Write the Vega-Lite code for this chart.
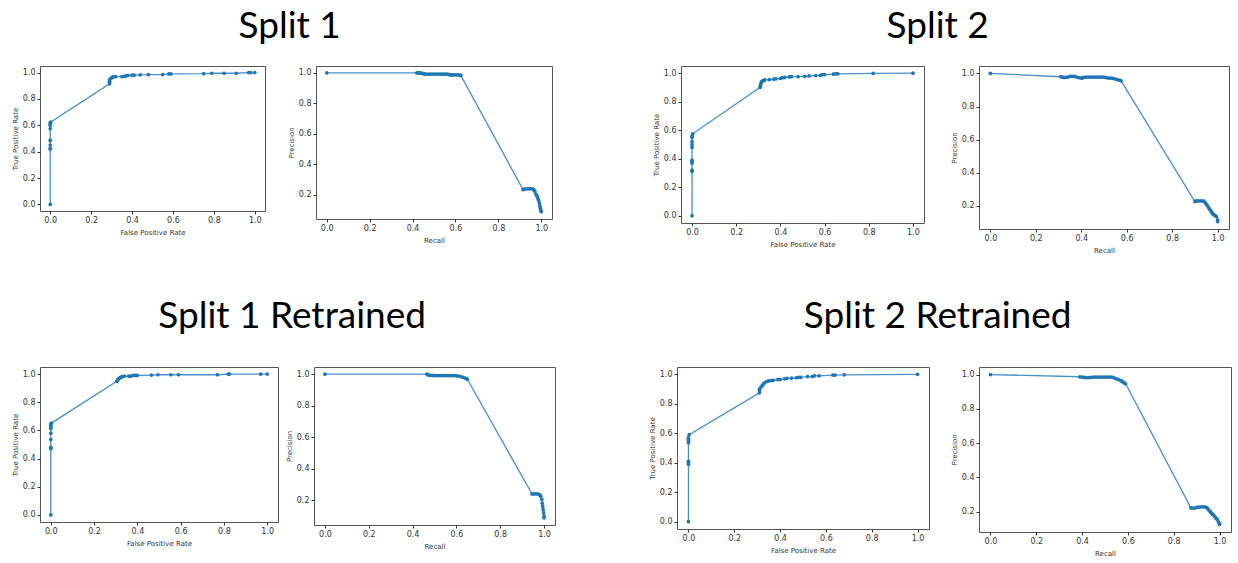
{
"$schema": "https://vega.github.io/schema/vega-lite/v6.json",
"padding": {"left": 10, "top": 7, "right": 0, "bottom": 0},
"background": "white",
"datasets": {
"p1": [{"fpr":0,"tpr":0},{"fpr":0,"tpr":0.42},{"fpr":0,"tpr":0.425},{"fpr":0,"tpr":0.45},{"fpr":0,"tpr":0.485},{"fpr":0,"tpr":0.575},{"fpr":0,"tpr":0.6},{"fpr":0,"tpr":0.61},{"fpr":0,"tpr":0.62},{"fpr":0.003,"tpr":0.625},{"fpr":0.29,"tpr":0.915},{"fpr":0.29,"tpr":0.925},{"fpr":0.29,"tpr":0.935},{"fpr":0.29,"tpr":0.945},{"fpr":0.295,"tpr":0.955},{"fpr":0.3,"tpr":0.96},{"fpr":0.305,"tpr":0.965},{"fpr":0.31,"tpr":0.968},{"fpr":0.32,"tpr":0.97},{"fpr":0.35,"tpr":0.97},{"fpr":0.36,"tpr":0.972},{"fpr":0.37,"tpr":0.975},{"fpr":0.38,"tpr":0.978},{"fpr":0.4,"tpr":0.98},{"fpr":0.41,"tpr":0.98},{"fpr":0.44,"tpr":0.983},{"fpr":0.48,"tpr":0.985},{"fpr":0.55,"tpr":0.985},{"fpr":0.58,"tpr":0.99},{"fpr":0.59,"tpr":0.99},{"fpr":0.75,"tpr":0.992},{"fpr":0.79,"tpr":0.995},{"fpr":0.85,"tpr":0.995},{"fpr":0.91,"tpr":0.995},{"fpr":0.97,"tpr":1.0},{"fpr":0.98,"tpr":1.0},{"fpr":1.0,"tpr":1.0}],
"p2": [{"recall":0,"precision":1.0},{"recall":0.42,"precision":1.0},{"recall":0.425,"precision":1.0},{"recall":0.43,"precision":1.0},{"recall":0.435,"precision":1.0},{"recall":0.44,"precision":0.998},{"recall":0.445,"precision":0.997},{"recall":0.45,"precision":0.995},{"recall":0.455,"precision":0.994},{"recall":0.46,"precision":0.993},{"recall":0.47,"precision":0.993},{"recall":0.48,"precision":0.993},{"recall":0.49,"precision":0.993},{"recall":0.5,"precision":0.993},{"recall":0.51,"precision":0.993},{"recall":0.52,"precision":0.993},{"recall":0.53,"precision":0.993},{"recall":0.54,"precision":0.993},{"recall":0.55,"precision":0.993},{"recall":0.56,"precision":0.992},{"recall":0.57,"precision":0.99},{"recall":0.575,"precision":0.988},{"recall":0.58,"precision":0.987},{"recall":0.59,"precision":0.987},{"recall":0.6,"precision":0.987},{"recall":0.61,"precision":0.987},{"recall":0.62,"precision":0.986},{"recall":0.625,"precision":0.984},{"recall":0.915,"precision":0.235},{"recall":0.92,"precision":0.238},{"recall":0.93,"precision":0.24},{"recall":0.94,"precision":0.24},{"recall":0.95,"precision":0.24},{"recall":0.96,"precision":0.24},{"recall":0.965,"precision":0.235},{"recall":0.97,"precision":0.225},{"recall":0.975,"precision":0.205},{"recall":0.98,"precision":0.195},{"recall":0.983,"precision":0.185},{"recall":0.986,"precision":0.17},{"recall":0.99,"precision":0.155},{"recall":0.992,"precision":0.14},{"recall":0.994,"precision":0.125},{"recall":0.996,"precision":0.11},{"recall":0.998,"precision":0.098},{"recall":1.0,"precision":0.09}],
"p3": [{"fpr":0,"tpr":0},{"fpr":0,"tpr":0.31},{"fpr":0,"tpr":0.32},{"fpr":0,"tpr":0.37},{"fpr":0,"tpr":0.38},{"fpr":0,"tpr":0.39},{"fpr":0,"tpr":0.48},{"fpr":0,"tpr":0.5},{"fpr":0,"tpr":0.52},{"fpr":0,"tpr":0.55},{"fpr":0,"tpr":0.56},{"fpr":0.003,"tpr":0.575},{"fpr":0.308,"tpr":0.9},{"fpr":0.31,"tpr":0.91},{"fpr":0.31,"tpr":0.92},{"fpr":0.312,"tpr":0.93},{"fpr":0.315,"tpr":0.94},{"fpr":0.32,"tpr":0.945},{"fpr":0.325,"tpr":0.95},{"fpr":0.33,"tpr":0.953},{"fpr":0.35,"tpr":0.955},{"fpr":0.37,"tpr":0.958},{"fpr":0.38,"tpr":0.96},{"fpr":0.4,"tpr":0.963},{"fpr":0.41,"tpr":0.968},{"fpr":0.42,"tpr":0.97},{"fpr":0.44,"tpr":0.973},{"fpr":0.45,"tpr":0.975},{"fpr":0.48,"tpr":0.975},{"fpr":0.51,"tpr":0.978},{"fpr":0.53,"tpr":0.98},{"fpr":0.56,"tpr":0.983},{"fpr":0.58,"tpr":0.985},{"fpr":0.59,"tpr":0.99},{"fpr":0.6,"tpr":0.99},{"fpr":0.64,"tpr":0.993},{"fpr":0.65,"tpr":0.995},{"fpr":0.66,"tpr":0.995},{"fpr":0.82,"tpr":0.998},{"fpr":1.0,"tpr":1.0}],
"p4": [{"recall":0,"precision":1.0},{"recall":0.31,"precision":0.98},{"recall":0.315,"precision":0.978},{"recall":0.32,"precision":0.976},{"recall":0.33,"precision":0.976},{"recall":0.34,"precision":0.978},{"recall":0.35,"precision":0.982},{"recall":0.36,"precision":0.982},{"recall":0.37,"precision":0.982},{"recall":0.38,"precision":0.978},{"recall":0.39,"precision":0.975},{"recall":0.4,"precision":0.972},{"recall":0.405,"precision":0.973},{"recall":0.41,"precision":0.976},{"recall":0.42,"precision":0.978},{"recall":0.43,"precision":0.978},{"recall":0.44,"precision":0.978},{"recall":0.45,"precision":0.978},{"recall":0.46,"precision":0.978},{"recall":0.47,"precision":0.978},{"recall":0.48,"precision":0.978},{"recall":0.49,"precision":0.978},{"recall":0.5,"precision":0.977},{"recall":0.51,"precision":0.975},{"recall":0.52,"precision":0.972},{"recall":0.53,"precision":0.972},{"recall":0.54,"precision":0.97},{"recall":0.55,"precision":0.966},{"recall":0.56,"precision":0.962},{"recall":0.57,"precision":0.958},{"recall":0.575,"precision":0.955},{"recall":0.9,"precision":0.226},{"recall":0.905,"precision":0.23},{"recall":0.91,"precision":0.23},{"recall":0.92,"precision":0.23},{"recall":0.93,"precision":0.23},{"recall":0.94,"precision":0.228},{"recall":0.945,"precision":0.22},{"recall":0.95,"precision":0.21},{"recall":0.955,"precision":0.2},{"recall":0.96,"precision":0.19},{"recall":0.965,"precision":0.18},{"recall":0.97,"precision":0.17},{"recall":0.975,"precision":0.16},{"recall":0.98,"precision":0.15},{"recall":0.985,"precision":0.145},{"recall":0.99,"precision":0.14},{"recall":0.995,"precision":0.135},{"recall":1.0,"precision":0.115},{"recall":1.0,"precision":0.105}],
"p5": [{"fpr":0,"tpr":0},{"fpr":0,"tpr":0.47},{"fpr":0,"tpr":0.475},{"fpr":0,"tpr":0.48},{"fpr":0,"tpr":0.535},{"fpr":0,"tpr":0.58},{"fpr":0,"tpr":0.615},{"fpr":0,"tpr":0.625},{"fpr":0,"tpr":0.635},{"fpr":0,"tpr":0.645},{"fpr":0.003,"tpr":0.652},{"fpr":0.305,"tpr":0.948},{"fpr":0.308,"tpr":0.955},{"fpr":0.31,"tpr":0.962},{"fpr":0.315,"tpr":0.968},{"fpr":0.32,"tpr":0.975},{"fpr":0.325,"tpr":0.978},{"fpr":0.33,"tpr":0.982},{"fpr":0.34,"tpr":0.985},{"fpr":0.36,"tpr":0.985},{"fpr":0.37,"tpr":0.985},{"fpr":0.38,"tpr":0.99},{"fpr":0.39,"tpr":0.99},{"fpr":0.4,"tpr":0.99},{"fpr":0.465,"tpr":0.993},{"fpr":0.495,"tpr":0.995},{"fpr":0.555,"tpr":0.995},{"fpr":0.59,"tpr":0.995},{"fpr":0.77,"tpr":0.995},{"fpr":0.82,"tpr":1.0},{"fpr":0.825,"tpr":1.0},{"fpr":0.97,"tpr":1.0},{"fpr":1.0,"tpr":1.0}],
"p6": [{"recall":0,"precision":1.0},{"recall":0.465,"precision":1.0},{"recall":0.47,"precision":0.996},{"recall":0.475,"precision":0.994},{"recall":0.48,"precision":0.993},{"recall":0.49,"precision":0.992},{"recall":0.5,"precision":0.991},{"recall":0.51,"precision":0.991},{"recall":0.52,"precision":0.991},{"recall":0.53,"precision":0.991},{"recall":0.54,"precision":0.991},{"recall":0.55,"precision":0.991},{"recall":0.56,"precision":0.991},{"recall":0.57,"precision":0.991},{"recall":0.58,"precision":0.991},{"recall":0.59,"precision":0.991},{"recall":0.6,"precision":0.99},{"recall":0.61,"precision":0.988},{"recall":0.62,"precision":0.985},{"recall":0.63,"precision":0.98},{"recall":0.64,"precision":0.975},{"recall":0.645,"precision":0.972},{"recall":0.65,"precision":0.968},{"recall":0.945,"precision":0.24},{"recall":0.95,"precision":0.24},{"recall":0.96,"precision":0.24},{"recall":0.97,"precision":0.24},{"recall":0.98,"precision":0.235},{"recall":0.985,"precision":0.225},{"recall":0.99,"precision":0.205},{"recall":0.992,"precision":0.18},{"recall":0.994,"precision":0.16},{"recall":0.996,"precision":0.14},{"recall":0.998,"precision":0.12},{"recall":1.0,"precision":0.1},{"recall":1.0,"precision":0.088}],
"p7": [{"fpr":0,"tpr":0},{"fpr":0,"tpr":0.39},{"fpr":0,"tpr":0.4},{"fpr":0,"tpr":0.41},{"fpr":0,"tpr":0.535},{"fpr":0,"tpr":0.55},{"fpr":0,"tpr":0.56},{"fpr":0,"tpr":0.57},{"fpr":0.003,"tpr":0.59},{"fpr":0.31,"tpr":0.875},{"fpr":0.31,"tpr":0.89},{"fpr":0.31,"tpr":0.9},{"fpr":0.315,"tpr":0.91},{"fpr":0.32,"tpr":0.92},{"fpr":0.325,"tpr":0.93},{"fpr":0.33,"tpr":0.94},{"fpr":0.34,"tpr":0.95},{"fpr":0.35,"tpr":0.955},{"fpr":0.36,"tpr":0.958},{"fpr":0.37,"tpr":0.96},{"fpr":0.39,"tpr":0.965},{"fpr":0.4,"tpr":0.965},{"fpr":0.42,"tpr":0.97},{"fpr":0.43,"tpr":0.972},{"fpr":0.45,"tpr":0.975},{"fpr":0.47,"tpr":0.977},{"fpr":0.48,"tpr":0.98},{"fpr":0.49,"tpr":0.98},{"fpr":0.52,"tpr":0.985},{"fpr":0.54,"tpr":0.985},{"fpr":0.55,"tpr":0.99},{"fpr":0.57,"tpr":0.99},{"fpr":0.63,"tpr":0.995},{"fpr":0.64,"tpr":0.995},{"fpr":0.68,"tpr":0.997},{"fpr":1.0,"tpr":1.0}],
"p8": [{"recall":0,"precision":1.0},{"recall":0.39,"precision":0.987},{"recall":0.4,"precision":0.985},{"recall":0.41,"precision":0.983},{"recall":0.42,"precision":0.982},{"recall":0.43,"precision":0.982},{"recall":0.44,"precision":0.983},{"recall":0.45,"precision":0.985},{"recall":0.46,"precision":0.985},{"recall":0.47,"precision":0.985},{"recall":0.48,"precision":0.985},{"recall":0.49,"precision":0.985},{"recall":0.5,"precision":0.985},{"recall":0.51,"precision":0.985},{"recall":0.52,"precision":0.985},{"recall":0.53,"precision":0.985},{"recall":0.54,"precision":0.98},{"recall":0.55,"precision":0.975},{"recall":0.56,"precision":0.97},{"recall":0.57,"precision":0.965},{"recall":0.575,"precision":0.96},{"recall":0.58,"precision":0.955},{"recall":0.585,"precision":0.95},{"recall":0.59,"precision":0.946},{"recall":0.875,"precision":0.222},{"recall":0.88,"precision":0.22},{"recall":0.89,"precision":0.22},{"recall":0.9,"precision":0.225},{"recall":0.91,"precision":0.226},{"recall":0.92,"precision":0.228},{"recall":0.93,"precision":0.228},{"recall":0.94,"precision":0.226},{"recall":0.945,"precision":0.222},{"recall":0.95,"precision":0.215},{"recall":0.955,"precision":0.205},{"recall":0.96,"precision":0.2},{"recall":0.965,"precision":0.19},{"recall":0.97,"precision":0.185},{"recall":0.975,"precision":0.178},{"recall":0.98,"precision":0.17},{"recall":0.985,"precision":0.16},{"recall":0.99,"precision":0.155},{"recall":0.995,"precision":0.14},{"recall":1.0,"precision":0.13},{"recall":1.0,"precision":0.125}]
},
"spacing": 43,
"vconcat": [
 {"spacing": 98, "hconcat": [
  {"title": {"text": "Split 1", "offset": 20, "dx": 8}, "spacing": 51, "bounds": "flush", "hconcat": [
   {"width": 225, "height": 145, "data": {"name": "p1"}, "mark": {"type": "line", "color": "#4a90c8", "strokeWidth": 1.3, "point": {"filled": true, "size": 14, "color": "#1f77b4"}},
    "encoding": {"x": {"field": "fpr", "type": "quantitative", "scale": {"domain": [-0.05, 1.05], "nice": false, "zero": false}, "axis": {"title": "False Positive Rate", "values": [0, 0.2, 0.4, 0.6, 0.8, 1]}},
                 "y": {"field": "tpr", "type": "quantitative", "scale": {"domain": [-0.05, 1.05], "nice": false, "zero": false}, "axis": {"title": "True Positive Rate", "values": [0, 0.2, 0.4, 0.6, 0.8, 1]}}}},
   {"width": 236, "height": 153, "data": {"name": "p2"}, "mark": {"type": "line", "color": "#4a90c8", "strokeWidth": 1.3, "point": {"filled": true, "size": 14, "color": "#1f77b4"}},
    "encoding": {"x": {"field": "recall", "type": "quantitative", "scale": {"domain": [-0.05, 1.05], "nice": false, "zero": false}, "axis": {"title": "Recall", "values": [0, 0.2, 0.4, 0.6, 0.8, 1]}},
                 "y": {"field": "precision", "type": "quantitative", "scale": {"domain": [0.0424, 1.0456], "nice": false, "zero": false}, "axis": {"title": "Precision", "values": [0.2, 0.4, 0.6, 0.8, 1]}}}}
  ]},
  {"title": {"text": "Split 2", "offset": 20, "dx": -3}, "spacing": 55, "bounds": "flush", "hconcat": [
   {"width": 243, "height": 157, "data": {"name": "p3"}, "mark": {"type": "line", "color": "#4a90c8", "strokeWidth": 1.3, "point": {"filled": true, "size": 14, "color": "#1f77b4"}},
    "encoding": {"x": {"field": "fpr", "type": "quantitative", "scale": {"domain": [-0.05, 1.05], "nice": false, "zero": false}, "axis": {"title": "False Positive Rate", "values": [0, 0.2, 0.4, 0.6, 0.8, 1]}},
                 "y": {"field": "tpr", "type": "quantitative", "scale": {"domain": [-0.05, 1.05], "nice": false, "zero": false}, "axis": {"title": "True Positive Rate", "values": [0, 0.2, 0.4, 0.6, 0.8, 1]}}}},
   {"width": 250, "height": 163, "data": {"name": "p4"}, "mark": {"type": "line", "color": "#4a90c8", "strokeWidth": 1.3, "point": {"filled": true, "size": 14, "color": "#1f77b4"}},
    "encoding": {"x": {"field": "recall", "type": "quantitative", "scale": {"domain": [-0.05, 1.05], "nice": false, "zero": false}, "axis": {"title": "Recall", "values": [0, 0.2, 0.4, 0.6, 0.8, 1]}},
                 "y": {"field": "precision", "type": "quantitative", "scale": {"domain": [0.0602, 1.0448], "nice": false, "zero": false}, "axis": {"title": "Precision", "values": [0.2, 0.4, 0.6, 0.8, 1]}}}}
  ]}
 ]},
 {"spacing": 91, "hconcat": [
  {"title": {"text": "Split 1 Retrained", "offset": 31, "dx": 9}, "spacing": 36, "bounds": "flush", "hconcat": [
   {"width": 238, "height": 155, "data": {"name": "p5"}, "mark": {"type": "line", "color": "#4a90c8", "strokeWidth": 1.3, "point": {"filled": true, "size": 14, "color": "#1f77b4"}},
    "encoding": {"x": {"field": "fpr", "type": "quantitative", "scale": {"domain": [-0.05, 1.05], "nice": false, "zero": false}, "axis": {"title": "False Positive Rate", "values": [0, 0.2, 0.4, 0.6, 0.8, 1]}},
                 "y": {"field": "tpr", "type": "quantitative", "scale": {"domain": [-0.05, 1.05], "nice": false, "zero": false}, "axis": {"title": "True Positive Rate", "values": [0, 0.2, 0.4, 0.6, 0.8, 1]}}}},
   {"width": 241, "height": 158, "data": {"name": "p6"}, "mark": {"type": "line", "color": "#4a90c8", "strokeWidth": 1.3, "point": {"filled": true, "size": 14, "color": "#1f77b4"}},
    "encoding": {"x": {"field": "recall", "type": "quantitative", "scale": {"domain": [-0.05, 1.05], "nice": false, "zero": false}, "axis": {"title": "Recall", "values": [0, 0.2, 0.4, 0.6, 0.8, 1]}},
                 "y": {"field": "precision", "type": "quantitative", "scale": {"domain": [0.0424, 1.0456], "nice": false, "zero": false}, "axis": {"title": "Precision", "values": [0.2, 0.4, 0.6, 0.8, 1]}}}}
  ]},
  {"title": {"text": "Split 2 Retrained", "offset": 31, "dx": -2}, "spacing": 50, "bounds": "flush", "hconcat": [
   {"width": 252, "height": 162, "data": {"name": "p7"}, "mark": {"type": "line", "color": "#4a90c8", "strokeWidth": 1.3, "point": {"filled": true, "size": 14, "color": "#1f77b4"}},
    "encoding": {"x": {"field": "fpr", "type": "quantitative", "scale": {"domain": [-0.05, 1.05], "nice": false, "zero": false}, "axis": {"title": "False Positive Rate", "values": [0, 0.2, 0.4, 0.6, 0.8, 1]}},
                 "y": {"field": "tpr", "type": "quantitative", "scale": {"domain": [-0.05, 1.05], "nice": false, "zero": false}, "axis": {"title": "True Positive Rate", "values": [0, 0.2, 0.4, 0.6, 0.8, 1]}}}},
   {"width": 252, "height": 165, "data": {"name": "p8"}, "mark": {"type": "line", "color": "#4a90c8", "strokeWidth": 1.3, "point": {"filled": true, "size": 14, "color": "#1f77b4"}},
    "encoding": {"x": {"field": "recall", "type": "quantitative", "scale": {"domain": [-0.05, 1.05], "nice": false, "zero": false}, "axis": {"title": "Recall", "values": [0, 0.2, 0.4, 0.6, 0.8, 1]}},
                 "y": {"field": "precision", "type": "quantitative", "scale": {"domain": [0.081, 1.044], "nice": false, "zero": false}, "axis": {"title": "Precision", "values": [0.2, 0.4, 0.6, 0.8, 1]}}}}
  ]}
 ]}
],
"config": {
 "view": {"stroke": "#555555", "strokeWidth": 1},
 "axis": {"grid": false, "domain": false, "format": ".1f", "labelFont": "DejaVu Sans", "labelFontSize": 8, "labelColor": "#333333", "titleFont": "DejaVu Sans", "titleFontSize": 7, "titleFontWeight": "normal", "titleColor": "#333333", "tickColor": "#333333", "tickSize": 3, "labelPadding": 2, "titlePadding": 4},
 "title": {"font": "Lato", "fontSize": 37, "fontWeight": "normal", "color": "#000000", "anchor": "middle"}
}
}
